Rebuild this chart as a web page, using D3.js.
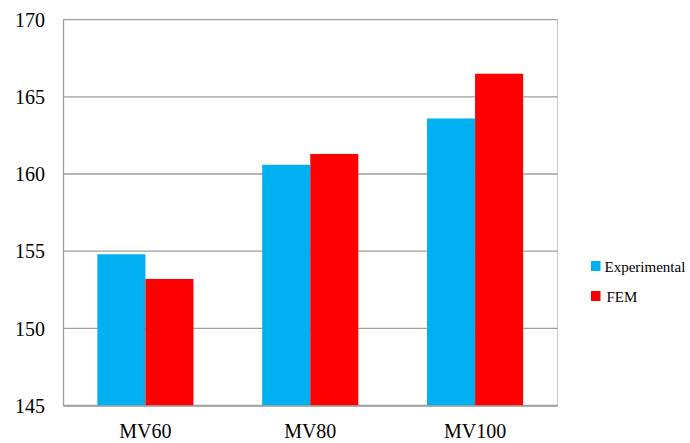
<!DOCTYPE html>
<html>
<head>
<meta charset="utf-8">
<script src="https://cdn.jsdelivr.net/npm/d3@7"></script>
<style>
  html, body { margin: 0; padding: 0; background: #fff; }
  svg { display: block; }
</style>
</head>
<body>
<svg id="chart" width="690" height="443"></svg>
<script>
// Chart data
const categories = ["MV60", "MV80", "MV100"];
const seriesNames = ["Experimental", "FEM"];
const experimental = [154.8, 160.6, 163.6];
const fem = [153.2, 161.3, 166.5];
const yTicks = [145, 150, 155, 160, 165, 170];
const colors = ["#00B0F0", "#FF0000"];

const FONT = "'Liberation Serif', 'Times New Roman', Times, 'DejaVu Serif', serif";

const svg = d3.select("#chart");
const plot = { left: 63, right: 557.5, top: 19.7, bottom: 405.5 };

const x = d3.scaleBand()
  .domain(categories)
  .range([plot.left, plot.right])
  .paddingInner(0.417)
  .paddingOuter(0.2085);

const x1 = d3.scaleBand()
  .domain(seriesNames)
  .range([0, x.bandwidth()]);

const y = d3.scaleLinear()
  .domain([145, 170])
  .range([plot.bottom, plot.top]);

// Right border of the plot area
svg.append("line")
  .attr("x1", plot.right).attr("x2", plot.right)
  .attr("y1", plot.top).attr("y2", plot.bottom)
  .attr("stroke", "#c8c8c8").attr("stroke-width", 1);

// Horizontal gridlines
svg.append("g")
  .selectAll("line")
  .data(yTicks)
  .join("line")
  .attr("x1", plot.left).attr("x2", plot.right)
  .attr("y1", d => y(d)).attr("y2", d => y(d))
  .attr("stroke", "#9e9e9e").attr("stroke-width", 1.3);

// Bars
const rows = categories.map((c, i) => ({ cat: c, values: [experimental[i], fem[i]] }));
const groups = svg.append("g")
  .selectAll("g")
  .data(rows)
  .join("g")
  .attr("transform", d => `translate(${x(d.cat)},0)`);

groups.selectAll("rect")
  .data(d => d.values.map((v, j) => ({ name: seriesNames[j], value: v, color: colors[j] })))
  .join("rect")
  .attr("x", d => x1(d.name))
  .attr("width", x1.bandwidth())
  .attr("y", d => y(d.value))
  .attr("height", d => y(145) - y(d.value))
  .attr("fill", d => d.color);

// Y axis
const yAxis = svg.append("g")
  .attr("transform", `translate(${plot.left},0)`)
  .call(d3.axisLeft(y).tickValues(yTicks).tickSize(0).tickPadding(18).tickFormat(d3.format("d")));
yAxis.attr("font-family", null).attr("font-size", null);
yAxis.select(".domain").attr("stroke", "#9e9e9e").attr("stroke-width", 1.3);
yAxis.selectAll("text")
  .style("font-family", FONT).style("font-size", "20px").attr("fill", "#000")
  .attr("dy", "0.34em");

// X axis
const xAxis = svg.append("g")
  .attr("transform", `translate(0,${plot.bottom})`)
  .call(d3.axisBottom(x).tickSize(0).tickPadding(18));
xAxis.attr("font-family", null).attr("font-size", null);
xAxis.select(".domain").attr("stroke", "#9e9e9e").attr("stroke-width", 1.3);
xAxis.selectAll("text")
  .style("font-family", FONT).style("font-size", "20px").attr("fill", "#000")
  .attr("dy", "0.71em");

// Legend
const legend = svg.append("g")
  .selectAll("g")
  .data(seriesNames)
  .join("g")
  .attr("transform", (d, i) => `translate(591,${261 + i * 30})`);
legend.append("rect")
  .attr("width", 9.5).attr("height", 10)
  .attr("fill", (d, i) => colors[i]);
legend.append("text")
  .attr("x", (d, i) => i === 0 ? 13.5 : 15.5)
  .attr("y", 10.5)
  .style("font-family", FONT)
  .style("font-size", "15px")
  .attr("fill", "#000")
  .text(d => d);
</script>
</body>
</html>
